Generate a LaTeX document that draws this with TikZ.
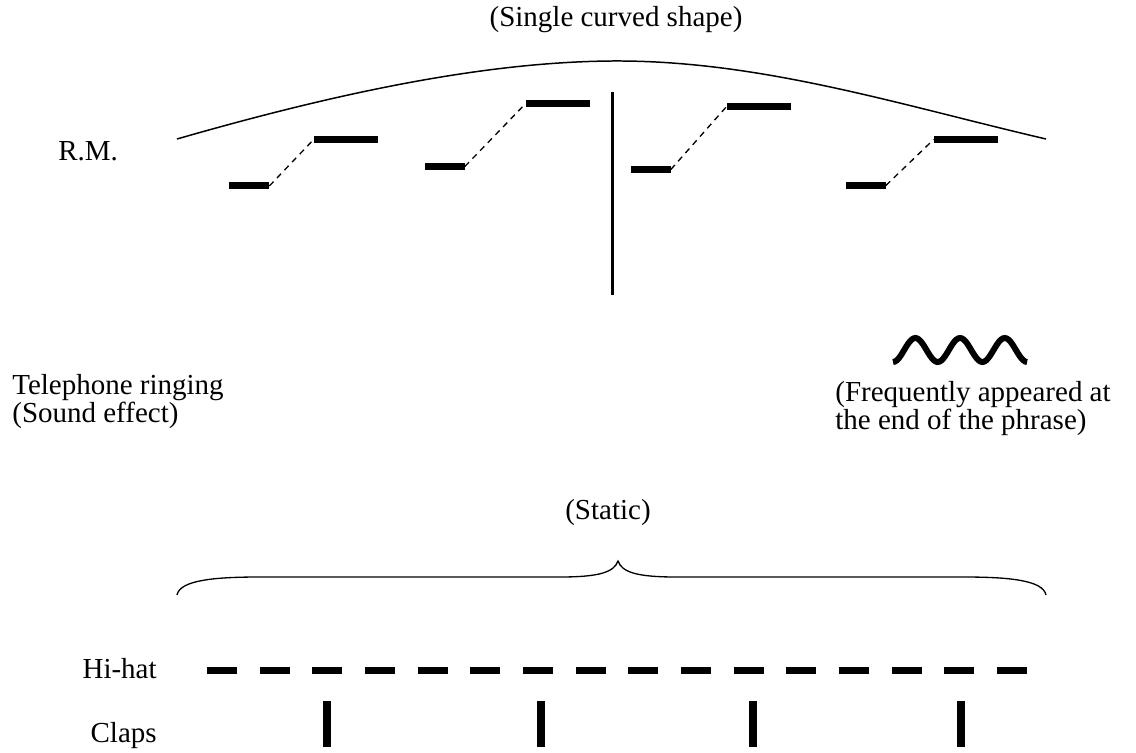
\documentclass[tikz,border=0pt]{standalone}
\usepackage{fontspec}
\setmainfont{Liberation Serif}

\begin{document}
\begin{tikzpicture}[x = 0.02cm, y = -0.02cm, font = {\fontsize{16.5}{15.4}\selectfont\lineskiplimit=-20pt}]
	\tikzstyle{textStyle} = [inner sep = 0pt, align = left]
	\tikzstyle{shortStyle} = [shape = rectangle, minimum width = 0.8cm, minimum height = 0.14cm, inner sep = 0pt, fill]
	\tikzstyle{longStyle} = [shortStyle, minimum width = 1.28cm]
	\tikzstyle{slideStyle} = [line width = 0.75pt, dash pattern = on 0.12cm off 0.1cm]
	\tikzstyle{hatStyle} = [line width = 0.14cm, dash pattern = on 0.6cm off 0.4533cm]
	\tikzstyle{clapStyle} = [line width = 0.16cm]
	\useasboundingbox (0,0) rectangle (1136,753);
	% labels (base of a two-line node sits on its last line)
	\node[textStyle, anchor = base] (shape) at (616,27) {(Single curved shape)};
	\node[textStyle, anchor = base west] (rm) at (58,161) {R.M.};
	\node[textStyle, anchor = base west] (phone) at (12,422) {Telephone ringing\\(Sound effect)};
	\node[textStyle, anchor = base west] (freq) at (835,429) {(Frequently appeared at\\the end of the phrase)};
	\node[textStyle, anchor = base] (static) at (608,519) {(Static)};
	\node[textStyle, anchor = base east] (hat) at (157,678) {Hi-hat};
	\node[textStyle, anchor = base east] (claps) at (157,742) {Claps};
	% contour over the R.M. line
	\draw[line width = 0.85pt] (177,139) .. controls (330,95) and (480,62) .. (612,61)
		.. controls (760,60) and (900,105) .. (1046,139);
	\draw[line width = 1.7pt] (612,92) -- (612,295);
	% R.M. steps
	\node[shortStyle] (b0) at (249,186) {};
	\node[longStyle] (b1) at (346,139.5) {};
	\node[shortStyle] (b2) at (444.5,166.5) {};
	\node[longStyle] (b3) at (558,103.5) {};
	\node[shortStyle] (b4) at (650.5,169.5) {};
	\node[longStyle] (b5) at (758.5,107) {};
	\node[shortStyle] (b6) at (865.5,185.5) {};
	\node[longStyle] (b7) at (966,139.5) {};
	\draw[slideStyle] (b0.east) -- (b1.west);
	\draw[slideStyle] (b2.east) -- (b3.west);
	\draw[slideStyle] (b4.east) -- (b5.west);
	\draw[slideStyle] (b6.east) -- (b7.west);
	% ringing
	\draw[line width = 0.12cm] plot[domain = 0:1080, samples = 73, smooth] ({893 + \x/360*44.7}, {350 + 12*cos(\x)});
	% brace
	\draw[line width = 0.75pt] (177,595) .. controls (180,580) and (215,577) .. (260,577) -- (560,577)
		.. controls (600,577) and (614,572) .. (618,561) .. controls (622,572) and (636,577) .. (676,577)
		-- (963,577) .. controls (1008,577) and (1043,580) .. (1046,595);
	% drums
	\draw[hatStyle] (207,670.5) -- (1027,670.5);
	\draw[clapStyle] (327,701) -- (327,747);
	\draw[clapStyle] (541,701) -- (541,747);
	\draw[clapStyle] (753,701) -- (753,747);
	\draw[clapStyle] (961,701) -- (961,747);
\end{tikzpicture}
\end{document}
